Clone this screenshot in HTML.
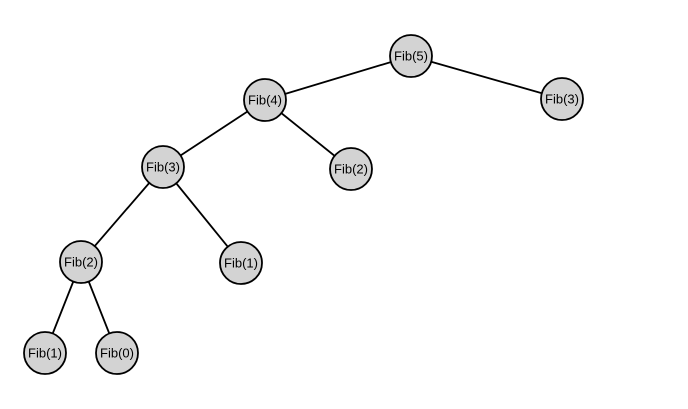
<!DOCTYPE html>
<html><head><meta charset="utf-8"><style>html,body{margin:0;padding:0;background:#fff}svg{display:block}</style></head>
<body>
<svg width="688" height="409" viewBox="0 0 688 409" xmlns="http://www.w3.org/2000/svg">
<g stroke="#000" stroke-width="1.8">
<line x1="411" y1="56" x2="265" y2="100"/>
<line x1="411" y1="56" x2="562" y2="99"/>
<line x1="265" y1="100" x2="163" y2="167"/>
<line x1="265" y1="100" x2="351" y2="169"/>
<line x1="163" y1="167" x2="81" y2="262"/>
<line x1="163" y1="167" x2="241" y2="263"/>
<line x1="81" y1="262" x2="45" y2="353"/>
<line x1="81" y1="262" x2="117" y2="353"/>
</g>
<g fill="#d3d3d3" stroke="#000" stroke-width="1.8">
<circle cx="411" cy="56" r="21"/>
<circle cx="265" cy="100" r="21"/>
<circle cx="562" cy="99" r="21"/>
<circle cx="163" cy="167" r="21"/>
<circle cx="351" cy="169" r="21"/>
<circle cx="81" cy="262" r="21"/>
<circle cx="241" cy="263" r="21"/>
<circle cx="45" cy="353" r="21"/>
<circle cx="117" cy="353" r="21"/>
</g>
<g font-family="Liberation Sans, sans-serif" font-size="13" text-anchor="middle" fill="#000">
<text x="411" y="60.5">Fib(5)</text>
<text x="265" y="104.5">Fib(4)</text>
<text x="562" y="103.5">Fib(3)</text>
<text x="163" y="171.5">Fib(3)</text>
<text x="351" y="173.5">Fib(2)</text>
<text x="81" y="266.5">Fib(2)</text>
<text x="241" y="267.5">Fib(1)</text>
<text x="45" y="357.5">Fib(1)</text>
<text x="117" y="357.5">Fib(0)</text>
</g>
</svg>
</body></html>
